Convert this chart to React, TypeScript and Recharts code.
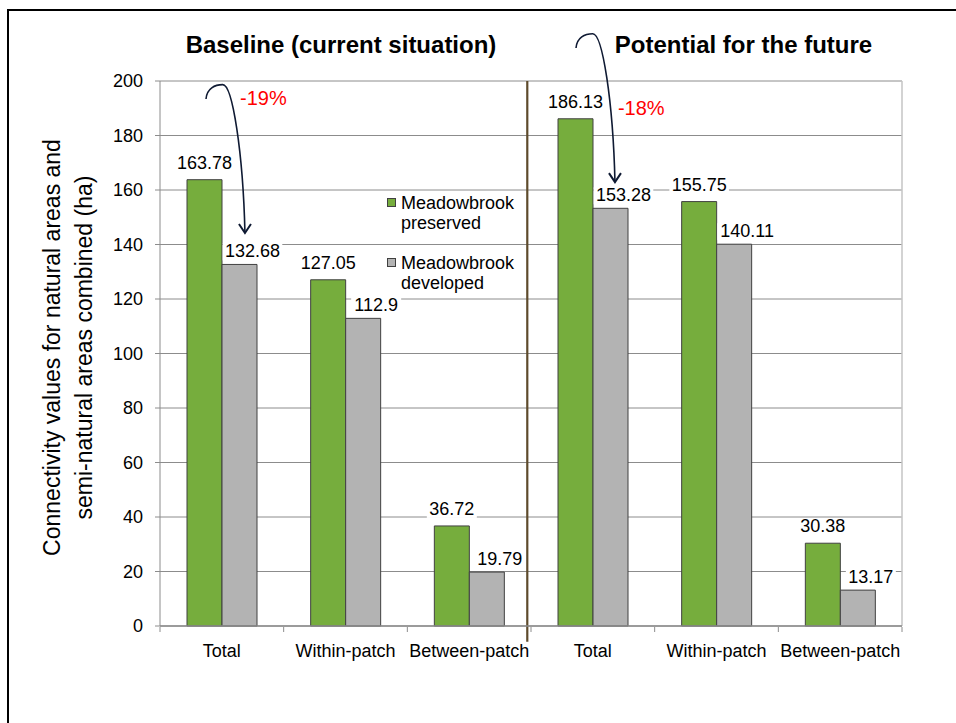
import React from 'react';
import {
  BarChart,
  Bar,
  XAxis,
  YAxis,
  CartesianGrid,
  ReferenceLine,
  ReferenceDot,
  LabelList,
  Legend,
} from 'recharts';

// ---------- data ----------
const panels = ['Baseline (current situation)', 'Potential for the future'];
const metrics = ['Total', 'Within-patch', 'Between-patch'];
const preserved = [163.78, 127.05, 36.72, 186.13, 155.75, 30.38];
const developed = [132.68, 112.9, 19.79, 153.28, 140.11, 13.17];
const seriesNames = ['Meadowbrook preserved', 'Meadowbrook developed'];
const yTicks = [0, 20, 40, 60, 80, 100, 120, 140, 160, 180, 200];
const slotTicks = [0, 1, 2, 3, 4, 5, 6];
const slotDomain = [0, 6];
const changeLabels = ['-19%', '-18%'];
// annotation anchors in data space (slot axis 0..6, value axis)
const arrowStarts = [
  [0.372, 193.4],
  [3.364, 212.1],
];
const arrowEnds = [
  [0.687, 144.2],
  [3.679, 162.9],
];
const changeAnchors = [
  [0.647, 191.2],
  [3.703, 187.5],
];
const dividerSlot = 2.97;
const dividerRange = [200, -5.8];

const rows = panels.flatMap((_, pi) =>
  metrics.map((m, mi) => ({
    slot: `${pi}|${m}`,
    pos: pi * 3 + mi + 0.5,
    preserved: preserved[pi * 3 + mi],
    developed: developed[pi * 3 + mi],
  }))
);

// ---------- styles ----------
const FONT = '"Liberation Sans", Arial, Helvetica, sans-serif';
const GREEN = '#76AD3D';
const GRAY = '#B3B3B3';
const BAR_STROKE = '#404040';
const GRID = '#8C8C8C';

const makeLabel = (shift: number, gap: number) => (props: any) => {
  const { x, y, width, value } = props;
  const cx = Number(x) + Number(width) / 2 + shift;
  const by = Number(y) - gap;
  const text = String(value);
  const w = text.length * 9.6;
  return (
    <g>
      <rect x={cx - w / 2 - 1} y={by - 14} width={w + 2} height={17} fill="#fff" />
      <text x={cx} y={by} textAnchor="middle" fontSize={18} fill="#000" fontFamily={FONT}>
        {text}
      </text>
    </g>
  );
};

const ArrowShape = (props: any) => {
  const { x1, y1, x2, y2 } = props;
  const sx = Number(x1);
  const sy = Number(y1);
  const tx = Number(x2);
  const ty = Number(y2);
  const dx = tx - sx;
  const dy = ty - sy;
  const px = sx + 0.43 * dx;
  const py = sy - 0.107 * dy;
  const d =
    `M${sx},${sy} C${sx + 0.02 * dx},${sy - 0.08 * dy} ${px - 0.2 * dx},${py} ${px},${py} ` +
    `C${px + 0.25 * dx},${py} ${tx - 0.05 * dx},${ty - 0.6 * dy} ${tx},${ty}`;
  return (
    <g>
      <path d={d} fill="none" stroke="#0F1A33" strokeWidth={1.6} />
      <path
        d={`M${tx - 6},${ty - 9} L${tx},${ty} L${tx + 6},${ty - 9}`}
        fill="none"
        stroke="#0F1A33"
        strokeWidth={2}
      />
    </g>
  );
};

const makeChangeText = (text: string) => (props: any) => (
  <text x={props.cx} y={props.cy} fill="#FF0000" fontSize={20} fontFamily={FONT}>
    {text}
  </text>
);

const LegendContent = () => (
  <div style={{ fontFamily: FONT, fontSize: 18, lineHeight: '20px', color: '#000' }}>
    {seriesNames.map((n, i) => (
      <div
        key={n}
        style={{ display: 'flex', alignItems: 'flex-start', marginTop: i ? 20 : 0 }}
      >
        <div
          style={{
            width: 7,
            height: 7,
            border: `1px solid ${BAR_STROKE}`,
            background: i === 0 ? GREEN : GRAY,
            marginTop: 5,
            marginRight: 5,
            flex: 'none',
          }}
        />
        <div>
          {n.split(' ').map((w) => (
            <div key={w}>{w}</div>
          ))}
        </div>
      </div>
    ))}
  </div>
);

const YLabel = (props: any) => {
  const vb = props.viewBox || { x: 100, y: 81, width: 60, height: 545 };
  const cy = vb.y + vb.height / 2 - 6;
  const x1 = vb.x - 40;
  const x2 = vb.x - 8;
  return (
    <g fontFamily={FONT} fontSize={23} fill="#000">
      <text x={x1} y={cy} textAnchor="middle" transform={`rotate(-90, ${x1}, ${cy})`}>
        Connectivity values for natural areas and
      </text>
      <text x={x2} y={cy} textAnchor="middle" transform={`rotate(-90, ${x2}, ${cy})`}>
        semi-natural areas combined (ha)
      </text>
    </g>
  );
};

export default function App() {
  return (
    <div
      style={{
        position: 'absolute',
        left: 0,
        top: 0,
        width: 956,
        height: 723,
        overflow: 'hidden',
        background: '#fff',
        fontFamily: FONT,
      }}
    >
      <div
        style={{
          position: 'absolute',
          left: 7,
          top: 9,
          width: 1000,
          height: 800,
          border: '2px solid #000',
        }}
      />
      <div style={{ position: 'absolute', left: 0, top: 0 }}>
        <BarChart
          width={956}
          height={723}
          data={rows}
          margin={{ top: 81, right: 54, bottom: 95, left: 100 }}
          barGap={0}
          barSize={35}
        >
          <CartesianGrid vertical={false} stroke={GRID} strokeWidth={1} />
          <XAxis
            xAxisId="cat"
            dataKey="slot"
            height={1}
            tickFormatter={(v: string) => String(v).split('|')[1]}
            tickLine={false}
            tickSize={0}
            tickMargin={18}
            interval={0}
            axisLine={{ stroke: GRID, strokeWidth: 1.5 }}
            tick={{ fontSize: 18, fill: '#000', fontFamily: FONT }}
          />
          <XAxis
            xAxisId="n"
            dataKey="pos"
            type="number"
            domain={slotDomain}
            allowDataOverflow
            ticks={slotTicks}
            interval={0}
            height={1}
            axisLine={false}
            tickFormatter={() => ''}
            tickSize={5}
            tickLine={{ stroke: GRID }}
          />
          <YAxis
            width={60}
            domain={[0, 200]}
            ticks={yTicks}
            interval={0}
            tickSize={5}
            tickMargin={12}
            axisLine={{ stroke: GRID }}
            tickLine={{ stroke: GRID }}
            tick={{ fontSize: 18, fill: '#000', fontFamily: FONT }}
            label={<YLabel />}
          />
          <ReferenceLine xAxisId="n" x={slotDomain[1]} stroke="#C4C4C4" strokeWidth={1.5} />
          <Bar
            xAxisId="cat"
            dataKey="preserved"
            name={seriesNames[0]}
            fill={GREEN}
            stroke={BAR_STROKE}
            strokeWidth={1}
            isAnimationActive={false}
          >
            <LabelList dataKey="preserved" content={makeLabel(0, 11)} />
          </Bar>
          <Bar
            xAxisId="cat"
            dataKey="developed"
            name={seriesNames[1]}
            fill={GRAY}
            stroke={BAR_STROKE}
            strokeWidth={1}
            isAnimationActive={false}
          >
            <LabelList dataKey="developed" content={makeLabel(13, 7)} />
          </Bar>
          <ReferenceLine
            xAxisId="n"
            ifOverflow="visible"
            segment={[
              { x: dividerSlot, y: dividerRange[0] },
              { x: dividerSlot, y: dividerRange[1] },
            ]}
            stroke="#5E4B2C"
            strokeWidth={2.2}
          />
          {arrowStarts.map((s, i) => (
            <ReferenceLine
              key={`arrow-${i}`}
              xAxisId="n"
              ifOverflow="visible"
              segment={[
                { x: s[0], y: s[1] },
                { x: arrowEnds[i][0], y: arrowEnds[i][1] },
              ]}
              shape={ArrowShape}
            />
          ))}
          {changeAnchors.map((a, i) => (
            <ReferenceDot
              key={`chg-${i}`}
              xAxisId="n"
              x={a[0]}
              y={a[1]}
              r={0}
              ifOverflow="visible"
              shape={makeChangeText(changeLabels[i])}
            />
          ))}
          <Legend
            layout="vertical"
            align="center"
            verticalAlign="middle"
            content={<LegendContent />}
            wrapperStyle={{ left: 387, top: 193, width: 150, height: 100, margin: 0 }}
          />
        </BarChart>
      </div>
      <svg
        width={956}
        height={723}
        style={{ position: 'absolute', left: 0, top: 0, pointerEvents: 'none' }}
      >
        <text x={341} y={53} textAnchor="middle" fontSize={24} fontWeight="bold" fontFamily={FONT} fill="#000">
          {panels[0]}
        </text>
        <text x={743.5} y={53} textAnchor="middle" fontSize={24} fontWeight="bold" fontFamily={FONT} fill="#000">
          {panels[1]}
        </text>
      </svg>
    </div>
  );
}
